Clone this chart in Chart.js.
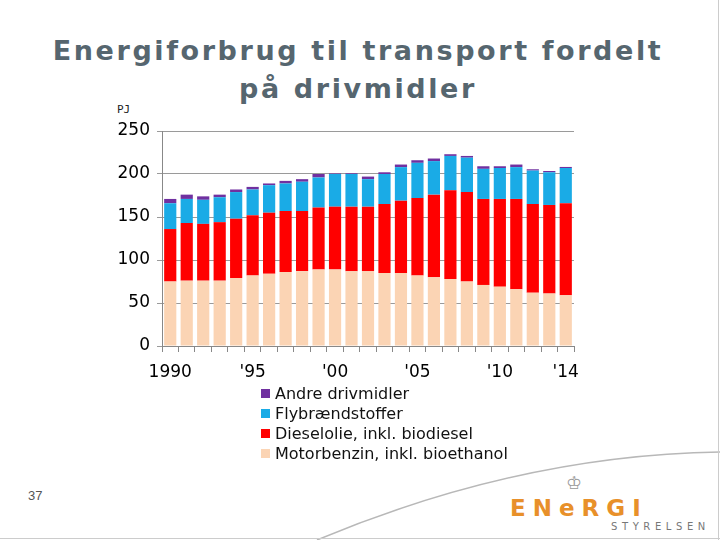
<!DOCTYPE html>
<html>
<head>
<meta charset="utf-8">
<script src="https://cdn.jsdelivr.net/npm/chart.js@4/dist/chart.umd.min.js"></script>
<style>
  body { margin: 0; background: #fff; font-family: "DejaVu Sans", sans-serif; }
  #page { position: relative; width: 720px; height: 540px; overflow: hidden; background: #fff; }
  #title { position: absolute; left: 0; top: 32px; width: 716px; text-align: center;
           font: bold 27px "DejaVu Sans", sans-serif; letter-spacing: 2.6px; line-height: 38px; color: #56666f; }
  #unit { position: absolute; left: 117px; top: 103px; font: 11px "DejaVu Sans Mono", monospace; color: #222; }
  #wrap { position: absolute; left: 90px; top: 110px; width: 510px; height: 280px; }
  #legend { position: absolute; left: 261px; top: 384px; font: 16px "DejaVu Sans", sans-serif; color: #111; }
  #legend div { height: 20px; line-height: 20px; white-space: nowrap; }
  #legend span { display: inline-block; width: 9px; height: 9px; margin-right: 5px; vertical-align: 1px; }
  #num { position: absolute; left: 28px; top: 488px; font: 13px "Liberation Sans", sans-serif; color: #555; }
  #logo { position: absolute; left: 510px; top: 495px; font: bold 23px "DejaVu Sans", sans-serif; color: #e8902a; letter-spacing: 7px; }
  #crown { position: absolute; left: 566px; top: 472px; font-size: 18px; color: #999; }
  #sub { position: absolute; left: 611px; top: 521px; font: 10px "DejaVu Sans", sans-serif; color: #777; letter-spacing: 4.6px; }
</style>
</head>
<body>
<div id="page">
  <svg width="720" height="540" style="position:absolute;left:0;top:0">
    <path d="M317,540 Q520,455 720,452" fill="none" stroke="#b8b8b8" stroke-width="1.5"/>
    <line x1="718.5" y1="0" x2="718.5" y2="540" stroke="#ccc"/>
    <line x1="0" y1="538.5" x2="720" y2="538.5" stroke="#ccc"/>
  </svg>
  <div id="title">Energiforbrug til transport fordelt<br>på drivmidler</div>
  <div id="unit">PJ</div>
  <div id="wrap"><canvas id="chart"></canvas></div>
  <div id="legend"></div>
  <div id="num">37</div>
  <div id="crown">♔</div>
  <div id="logo">ENeRGI</div>
  <div id="sub">STYRELSEN</div>
</div>
<script>
var years = ['1990','1991','1992','1993','1994','1995','1996','1997','1998','1999','2000','2001','2002',
             '2003','2004','2005','2006','2007','2008','2009','2010','2011','2012','2013','2014'];
var xTickLabels = ['1990','','','','',"'95",'','','','',"'00",'','','','',"'05",'','','','',"'10",'','','',"'14"];
var yTicks = [0, 50, 100, 150, 200, 250];

// PJ per year
var motorbenzin = [75, 76, 76, 76, 79, 82, 84, 86, 87, 89, 89, 87, 87, 85, 85, 82, 80, 78, 75, 71, 69, 66, 62, 61, 59];
var diesel      = [61, 67, 66, 68, 69, 70, 71, 71, 70, 72, 73, 75, 75, 80, 84, 90, 96, 103, 104, 100, 102, 105, 103, 103, 107];
var fly         = [30, 28, 28, 29, 31, 30, 32, 32, 34, 35, 38, 38, 32, 35, 39, 41, 39, 40, 40, 35, 36, 37, 39, 38, 41];
var andre       = [5, 5, 4, 3, 3, 3, 2, 3, 3, 4, 0.6, 0.8, 3, 2, 3, 3, 3, 2, 2, 3, 2, 3, 1.5, 1.5, 1.2];

var seriesNames = ['Motorbenzin, inkl. bioethanol', 'Dieselolie, inkl. biodiesel', 'Flybrændstoffer', 'Andre drivmidler'];
var seriesColors = ['#fbd4b4', '#ff0000', '#1aabe6', '#7030a0'];
var seriesData = [motorbenzin, diesel, fly, andre];

var datasets = seriesData.map(function (d, i) {
    return { label: seriesNames[i], data: d, backgroundColor: seriesColors[i],
             barPercentage: 0.74, categoryPercentage: 1.0 };
});

var chart = new Chart(document.getElementById('chart').getContext('2d'), {
    type: 'bar',
    data: { labels: years, datasets: datasets },
    options: {
        responsive: true,
        maintainAspectRatio: false,
        animation: false,
        layout: { padding: { top: 21, right: 26, bottom: 4, left: 0 } },
        plugins: { legend: { display: false }, tooltip: { enabled: false } },
        scales: {
            x: {
                stacked: true,
                grid: { display: true, drawOnChartArea: false, drawTicks: true, tickLength: 6, color: '#888', offset: true },
                border: { display: true, color: '#888' },
                ticks: {
                    autoSkip: false, maxRotation: 0, padding: 10,
                    color: '#000', font: { family: 'DejaVu Sans', size: 17 },
                    callback: function (v, i) { return xTickLabels[i]; }
                },
                afterFit: function (s) { s.height = 40; }
            },
            y: {
                stacked: true, min: 0, max: 250,
                afterBuildTicks: function (s) { s.ticks = yTicks.map(function (v) { return { value: v }; }); },
                grid: { color: '#9a9a9a', tickLength: 5, drawTicks: true },
                border: { display: true, color: '#888' },
                ticks: { padding: 7, color: '#000', font: { family: 'DejaVu Sans', size: 17 } },
                afterFit: function (s) { s.width = 72; }
            }
        }
    }
});

// legend: reversed order, one entry per line
var lg = document.getElementById('legend');
chart.data.datasets.slice().reverse().forEach(function (ds) {
    var row = document.createElement('div');
    var sw = document.createElement('span');
    sw.style.background = ds.backgroundColor;
    row.appendChild(sw);
    row.appendChild(document.createTextNode(ds.label));
    lg.appendChild(row);
});
</script>
</body>
</html>
